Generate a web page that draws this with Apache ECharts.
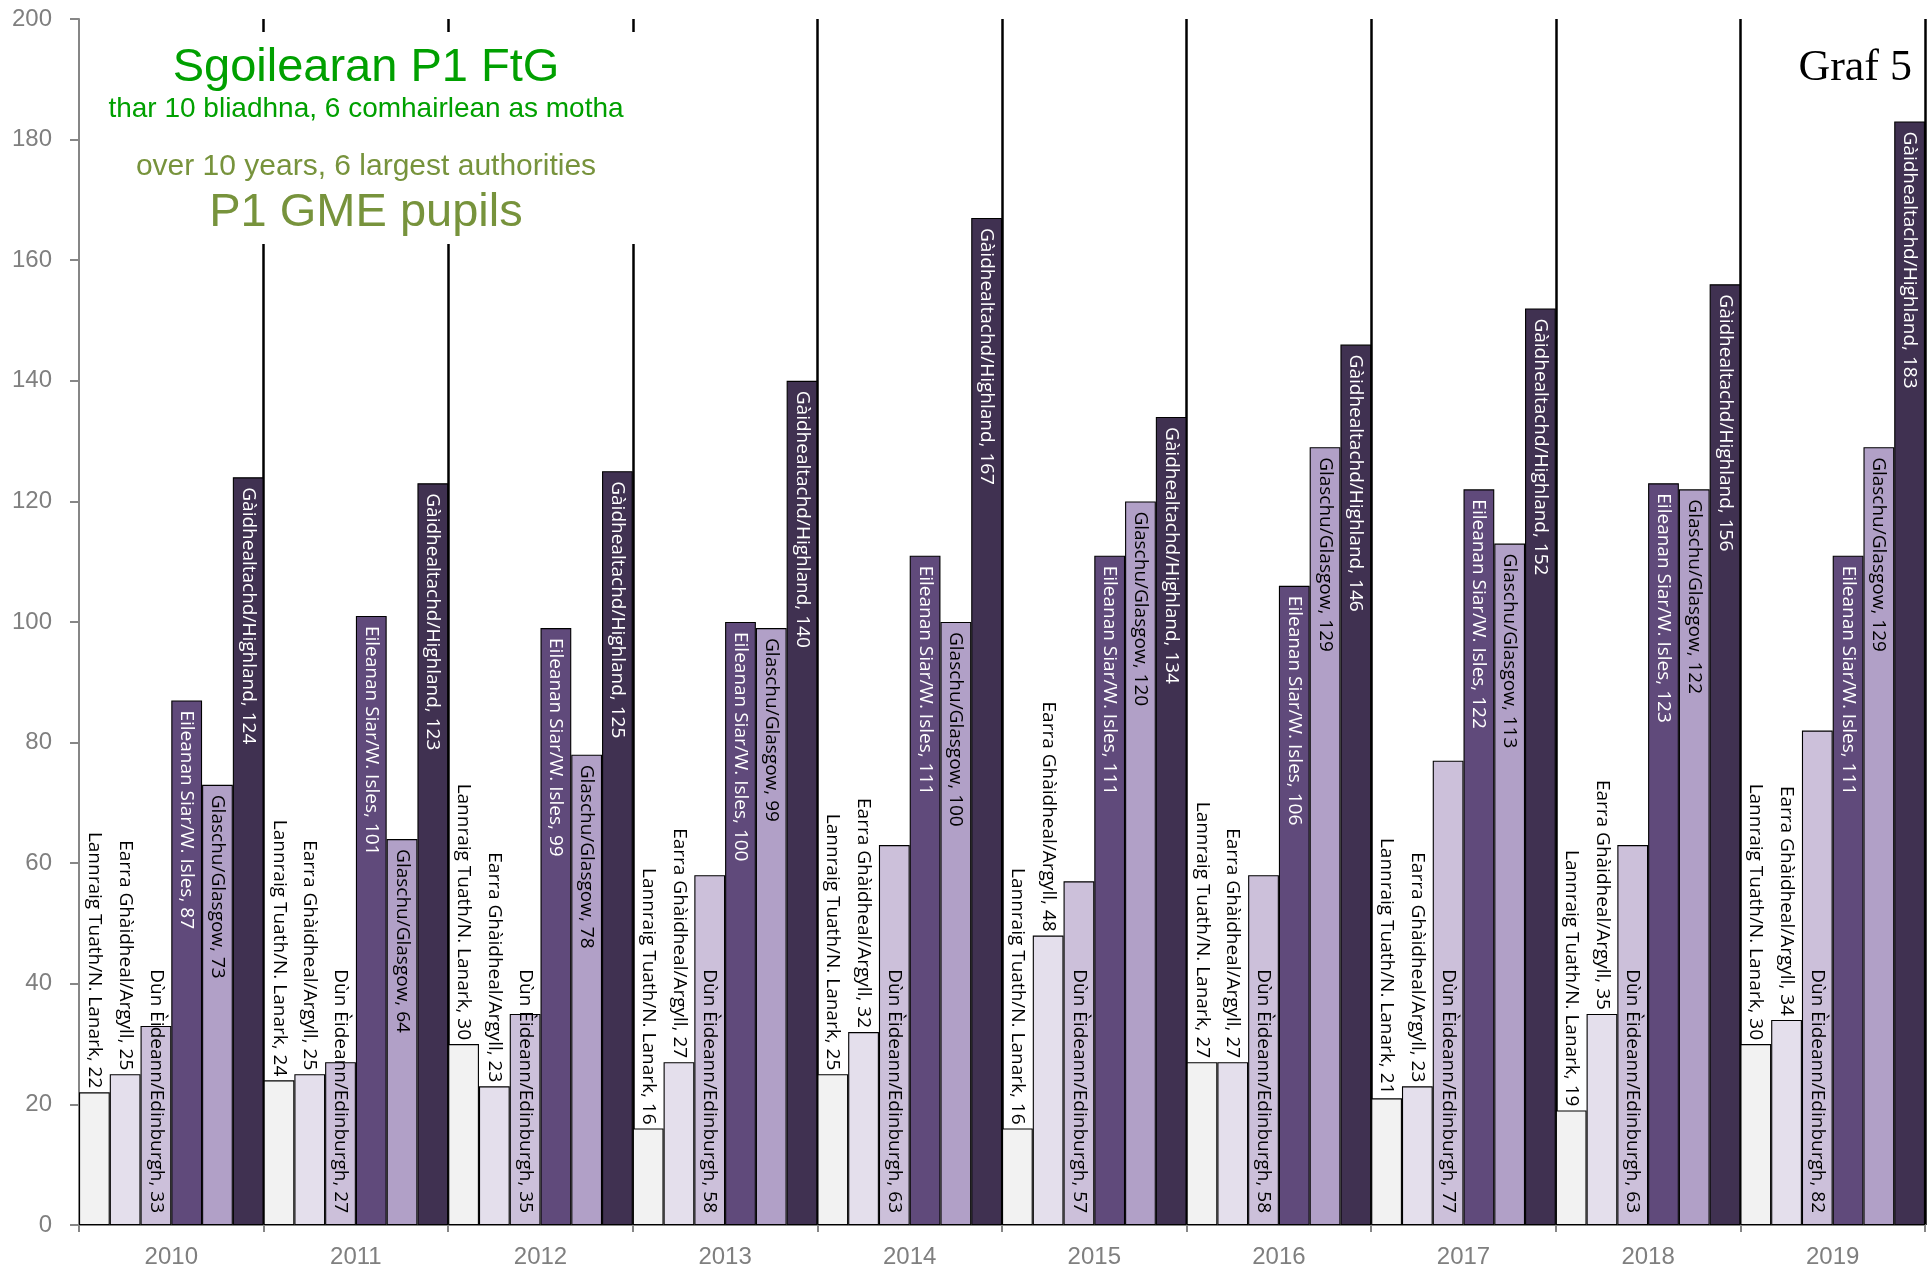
<!DOCTYPE html>
<html><head><meta charset="utf-8">
<script src="https://cdn.jsdelivr.net/npm/echarts@6/dist/echarts.min.js"></script>
<style>html,body{margin:0;padding:0;background:#fff}#c{width:1930px;height:1274px}</style>
</head><body><div id="c"></div>
<script>
const years = ['2010','2011','2012','2013','2014','2015','2016','2017','2018','2019'];
const nameLanark = 'Lannraig Tuath/N. Lanark';
const nameArgyll = 'Earra Ghàidheal/Argyll';
const nameEdinburgh = 'Dùn Èideann/Edinburgh';
const nameWIsles = 'Eileanan Siar/W. Isles';
const nameGlasgow = 'Glaschu/Glasgow';
const nameHighland = 'Gàidhealtachd/Highland';
const lanark    = [22, 24, 30, 16, 25, 16, 27, 21, 19, 30];
const argyll    = [25, 25, 23, 27, 32, 48, 27, 23, 35, 34];
const edinburgh = [33, 27, 35, 58, 63, 57, 58, 77, 63, 82];
const wIsles    = [87, 101, 99, 100, 111, 111, 106, 122, 123, 111];
const glasgow   = [73, 64, 78, 99, 100, 120, 129, 113, 122, 129];
const highland  = [124, 123, 125, 140, 167, 134, 146, 152, 156, 183];
const yMin = 0, yMax = 200, yStep = 20;
const titleMain = 'Sgoilearan P1 FtG';
const titleSubGd = 'thar 10 bliadhna, 6 comhairlean as motha';
const titleSubEn = 'over 10 years, 6 largest authorities';
const titleEn = 'P1 GME pupils';
const grafLabel = 'Graf 5';

const LBL_FONT = '"Open Sans", "Liberation Sans", sans-serif';
const AX_FONT = '"Liberation Sans", Arial, sans-serif';

function mk(name, data, color, mode, txtColor) {
  let lab = {show: true, rotate: -90, verticalAlign: 'middle', formatter: '{a}, {c}',
    color: txtColor, fontFamily: LBL_FONT, fontSize: 19};
  if (mode === 'top') { lab.position = 'top'; lab.align = 'right'; lab.distance = 4; }
  else if (mode === 'bottom') { lab.position = 'insideBottom'; lab.align = 'right'; lab.distance = 12; }
  else { lab.position = 'insideTop'; lab.align = 'left'; lab.distance = 10; }
  return {name: name, type: 'bar', data: data, barGap: '0%', barCategoryGap: '0%',
    itemStyle: {color: color, borderColor: '#000', borderWidth: 1.1},
    label: lab, emphasis: {disabled: true}, animation: false};
}

const chart = echarts.init(document.getElementById('c'), null, {renderer: 'canvas'});
chart.setOption({
  animation: false,
  backgroundColor: '#fff',
  grid: {left: 79, right: 5, top: 19, bottom: 49},
  xAxis: {
    type: 'category', data: years,
    axisLine: {show: true, lineStyle: {color: '#868686', width: 2}},
    axisTick: {show: true, length: 7, lineStyle: {color: '#868686', width: 2}},
    axisLabel: {color: '#7F7F7F', fontSize: 24, fontFamily: AX_FONT, margin: 20},
    splitLine: {show: true, showMinLine: false, lineStyle: {color: '#000', width: 2.5}}
  },
  yAxis: {
    type: 'value', min: yMin, max: yMax, interval: yStep,
    axisLine: {show: true, lineStyle: {color: '#868686', width: 2}},
    axisTick: {show: true, length: 9, lineStyle: {color: '#868686', width: 2}},
    axisLabel: {color: '#7F7F7F', fontSize: 24, fontFamily: AX_FONT, margin: 27},
    splitLine: {show: false}
  },
  series: [
    mk(nameLanark, lanark, '#F2F2F2', 'top', '#000'),
    mk(nameArgyll, argyll, '#E4DFEC', 'top', '#000'),
    mk(nameEdinburgh, edinburgh, '#CCC0DA', 'bottom', '#000'),
    mk(nameWIsles, wIsles, '#604A7B', 'inside', '#fff'),
    mk(nameGlasgow, glasgow, '#B1A0C7', 'inside', '#000'),
    mk(nameHighland, highland, '#403151', 'inside', '#fff')
  ],
  graphic: [
    {type: 'rect', z: 100, shape: {x: 81, y: 32, width: 580, height: 212}, style: {fill: '#fff'}},
    {type: 'text', z: 101, style: {text: titleMain, x: 366, y: 68, align: 'center', verticalAlign: 'middle',
      fontSize: 47, fontFamily: AX_FONT, fill: '#00A000'}},
    {type: 'text', z: 101, style: {text: titleSubGd, x: 366, y: 109, align: 'center', verticalAlign: 'middle',
      fontSize: 28, fontFamily: AX_FONT, fill: '#00A000'}},
    {type: 'text', z: 101, style: {text: titleSubEn, x: 366, y: 167, align: 'center', verticalAlign: 'middle',
      fontSize: 30, fontFamily: AX_FONT, fill: '#77933C'}},
    {type: 'text', z: 101, style: {text: titleEn, x: 366, y: 213, align: 'center', verticalAlign: 'middle',
      fontSize: 47, fontFamily: AX_FONT, fill: '#77933C'}},
    {type: 'text', z: 101, style: {text: grafLabel, x: 1912, y: 68, align: 'right', verticalAlign: 'middle',
      fontSize: 44, fontFamily: '"Liberation Serif", "DejaVu Serif", serif', fill: '#000'}}
  ]
});
</script>
</body></html>
